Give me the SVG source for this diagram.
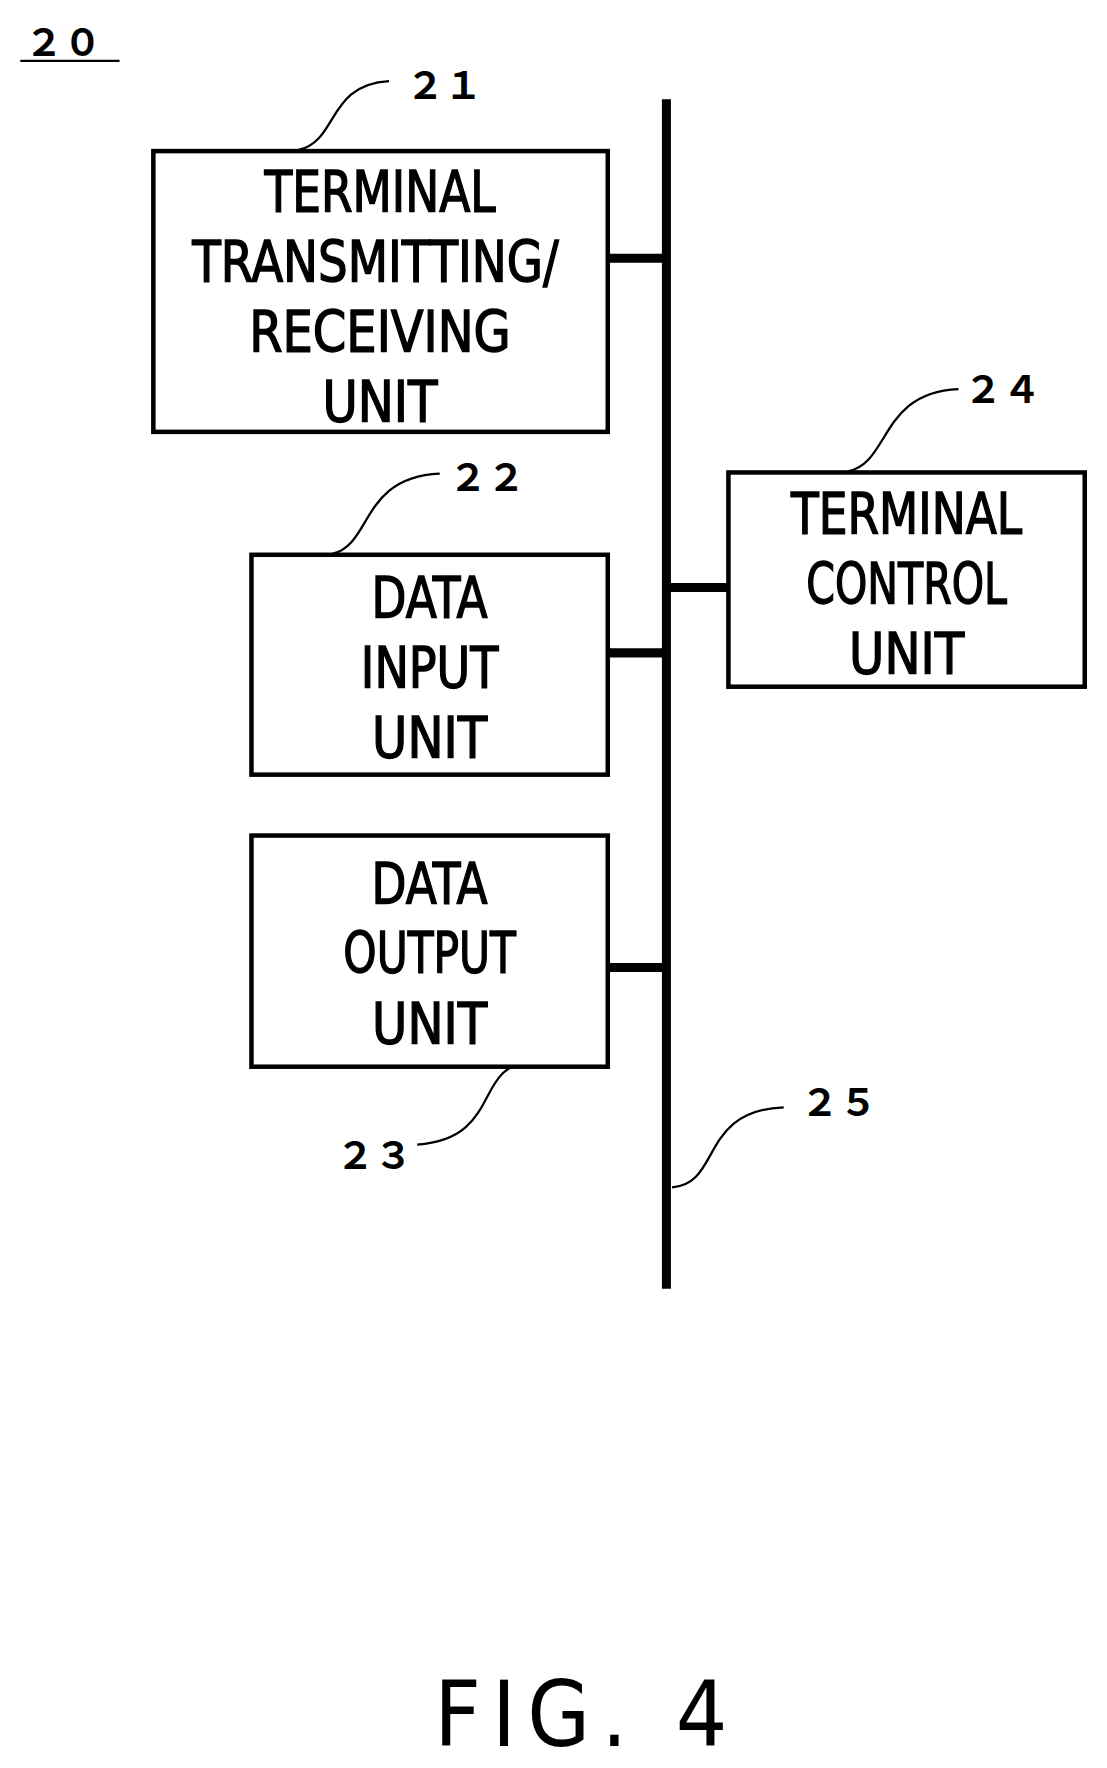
<svg xmlns="http://www.w3.org/2000/svg" width="1107" height="1768" viewBox="0 0 1107 1768">
<style>
.box{fill:#fff;stroke:#000;stroke-width:4}
.lbl{font-family:"DejaVu Sans Condensed","DejaVu Sans",sans-serif;font-size:50px;text-anchor:middle;fill:#000;stroke:#000;stroke-width:1.2}
.ref{font-family:"Noto Sans CJK JP",sans-serif;font-size:34px;font-weight:bold;fill:#000}
.lead{fill:none;stroke:#000;stroke-width:2}
.bus{stroke:#000;stroke-width:8;fill:none}
</style>
<rect width="1107" height="1768" fill="#fff"/>
<g transform="scale(1.1276)">
<g id="title20"><text class="ref" x="22" y="50">２０</text><line x1="18" y1="54" x2="106" y2="54" stroke="#000" stroke-width="2"/></g>
<g id="connectors">
<line class="bus" x1="591" y1="88" x2="591" y2="1143"/>
<line class="bus" x1="539" y1="229" x2="591" y2="229"/>
<line class="bus" x1="539" y1="579" x2="591" y2="579"/>
<line class="bus" x1="533" y1="858" x2="591" y2="858"/>
<line class="bus" x1="591" y1="521" x2="646" y2="521"/>
<path class="lead" d="M265,133 C300,125 290,75 345,72"/>
<path class="lead" d="M295,491 C330,483 320,423 390,420"/>
<path class="lead" d="M470,942 C420,945 445,1010 370,1015"/>
<path class="lead" d="M752,418 C790,410 780,348 850,345"/>
<path class="lead" d="M596,1053 C640,1050 620,985 695,982"/>
</g>
<g id="n21"><rect class="box" x="136" y="134" width="403" height="249"/>
<text class="lbl" x="337" y="188" textLength="205" lengthAdjust="spacingAndGlyphs">TERMINAL</text>
<text class="lbl" x="333" y="250" textLength="325" lengthAdjust="spacingAndGlyphs">TRANSMITTING/</text>
<text class="lbl" x="337" y="312" textLength="232" lengthAdjust="spacingAndGlyphs">RECEIVING</text>
<text class="lbl" x="337" y="374" textLength="102" lengthAdjust="spacingAndGlyphs">UNIT</text>
<text class="ref" x="360" y="88">２１</text></g>
<g id="n22"><rect class="box" x="223" y="492" width="316" height="195"/>
<text class="lbl" x="381" y="548" textLength="103" lengthAdjust="spacingAndGlyphs">DATA</text>
<text class="lbl" x="381" y="610" textLength="122" lengthAdjust="spacingAndGlyphs">INPUT</text>
<text class="lbl" x="381" y="672" textLength="102" lengthAdjust="spacingAndGlyphs">UNIT</text>
<text class="ref" x="398" y="435">２２</text></g>
<g id="n23"><rect class="box" x="223" y="741" width="316" height="205"/>
<text class="lbl" x="381" y="802" textLength="103" lengthAdjust="spacingAndGlyphs">DATA</text>
<text class="lbl" x="381" y="863" textLength="153" lengthAdjust="spacingAndGlyphs">OUTPUT</text>
<text class="lbl" x="381" y="926" textLength="102" lengthAdjust="spacingAndGlyphs">UNIT</text>
<text class="ref" x="298" y="1037">２３</text></g>
<g id="n24"><rect class="box" x="646" y="419" width="316" height="190"/>
<text class="lbl" x="804" y="474" textLength="205" lengthAdjust="spacingAndGlyphs">TERMINAL</text>
<text class="lbl" x="804" y="536" textLength="178" lengthAdjust="spacingAndGlyphs">CONTROL</text>
<text class="lbl" x="804" y="598" textLength="102" lengthAdjust="spacingAndGlyphs">UNIT</text>
<text class="ref" x="855" y="357">２４</text></g>
<g id="n25"><text class="ref" x="710" y="990">２５</text></g>
<g id="fig"><text x="515" y="1548" font-family="DejaVu Sans Condensed,DejaVu Sans,sans-serif" font-size="80" text-anchor="middle" textLength="260" lengthAdjust="spacing">FIG. 4</text></g>
</g>
</svg>
